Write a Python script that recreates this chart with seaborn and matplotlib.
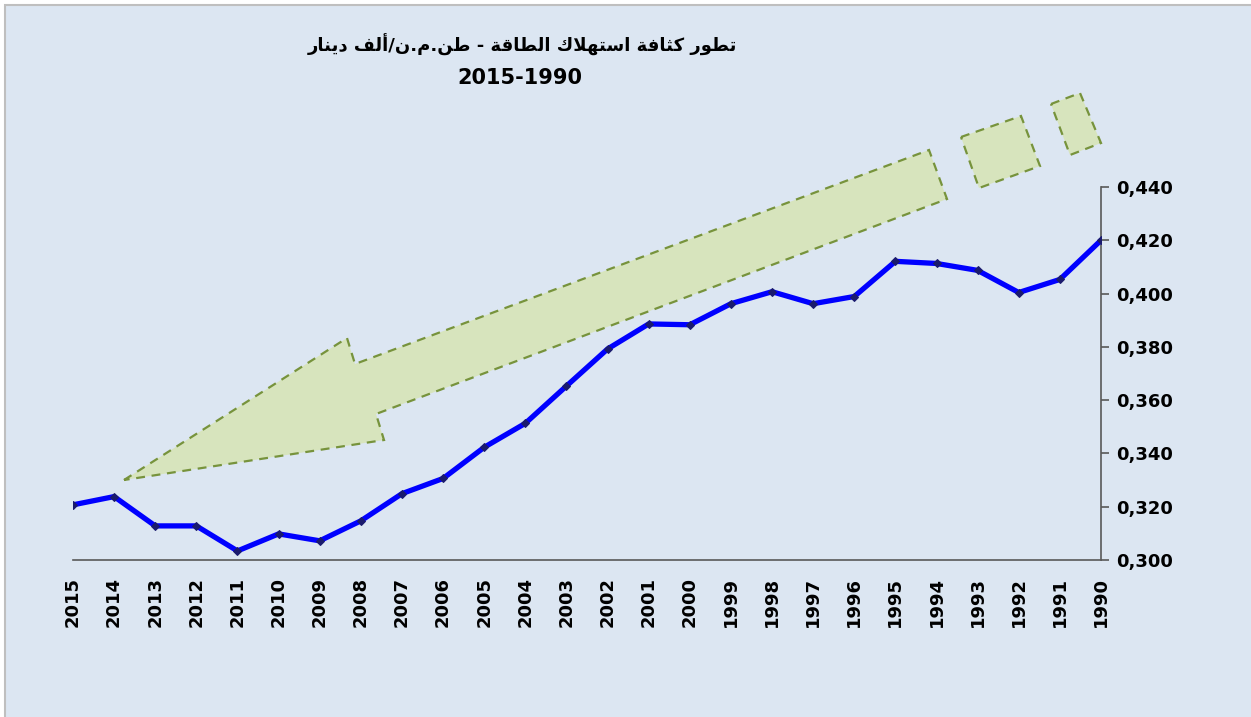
import matplotlib
matplotlib.use("Agg")
import matplotlib.pyplot as plt
from matplotlib.patches import Polygon, Rectangle
from matplotlib.ticker import FuncFormatter, MultipleLocator
import seaborn as sns
import pandas as pd

years = list(range(2015, 1989, -1))
intensity = [
    0.3207, 0.3238, 0.3128, 0.3128, 0.3034, 0.3098, 0.3072, 0.3147, 0.3249,
    0.3306, 0.3423, 0.3513, 0.3653, 0.3792, 0.3886, 0.3883, 0.3962, 0.4007,
    0.3962, 0.3989, 0.4121, 0.4113, 0.4087, 0.4004, 0.4053, 0.4200,
]
title_ar = "تطور كثافة استهلاك الطاقة - طن.م.ن/ألف دينار"
subtitle = "2015-1990"

BG = "#dce6f2"
W, H = 1251, 717

# presentation forms: (isolated, final, initial, medial); None -> letter does not join left
FORMS = {
    "ا": (0xFE8D, 0xFE8E, None, None), "أ": (0xFE83, 0xFE84, None, None),
    "ت": (0xFE95, 0xFE96, 0xFE97, 0xFE98), "ث": (0xFE99, 0xFE9A, 0xFE9B, 0xFE9C),
    "د": (0xFEA9, 0xFEAA, None, None), "ر": (0xFEAD, 0xFEAE, None, None),
    "س": (0xFEB1, 0xFEB2, 0xFEB3, 0xFEB4), "ط": (0xFEC1, 0xFEC2, 0xFEC3, 0xFEC4),
    "ف": (0xFED1, 0xFED2, 0xFED3, 0xFED4), "ق": (0xFED5, 0xFED6, 0xFED7, 0xFED8),
    "ك": (0xFED9, 0xFEDA, 0xFEDB, 0xFEDC), "ل": (0xFEDD, 0xFEDE, 0xFEDF, 0xFEE0),
    "م": (0xFEE1, 0xFEE2, 0xFEE3, 0xFEE4), "ن": (0xFEE5, 0xFEE6, 0xFEE7, 0xFEE8),
    "ه": (0xFEE9, 0xFEEA, 0xFEEB, 0xFEEC), "و": (0xFEED, 0xFEEE, None, None),
    "ي": (0xFEF1, 0xFEF2, 0xFEF3, 0xFEF4), "ة": (0xFE93, 0xFE94, None, None),
}
LAM_ALEF = {"ا": (0xFEFB, 0xFEFC), "أ": (0xFEF7, 0xFEF8)}


def shape_arabic(text):
    """Join Arabic letters by hand and return them in visual (left-to-right) order."""
    out = []
    i = 0
    prev_joins = False
    while i < len(text):
        ch = text[i]
        if ch == "ل" and i + 1 < len(text) and text[i + 1] in LAM_ALEF:
            iso, fin = LAM_ALEF[text[i + 1]]
            out.append(chr(fin if prev_joins else iso))
            prev_joins = False
            i += 2
            continue
        if ch not in FORMS:
            out.append(ch)
            prev_joins = False
            i += 1
            continue
        iso, fin, ini, med = FORMS[ch]
        nxt = text[i + 1] if i + 1 < len(text) else ""
        next_joins = ini is not None and nxt in FORMS
        if prev_joins and next_joins:
            out.append(chr(med))
        elif prev_joins:
            out.append(chr(fin))
        elif next_joins:
            out.append(chr(ini))
        else:
            out.append(chr(iso))
        prev_joins = ini is not None
        i += 1
    return "".join(reversed(out))


df = pd.DataFrame({"year": years, "intensity": intensity})

sns.set_style("white")
plt.rcParams["font.family"] = ["DejaVu Sans"]
plt.rcParams["text.color"] = "black"

fig = plt.figure(figsize=(W / 100, H / 100), dpi=100)
fig.patch.set_facecolor("white")
fig.add_artist(Rectangle((5 / W, -0.05), 1.1, 1 - 5 / H + 0.05, transform=fig.transFigure,
                         facecolor=BG, edgecolor="#bfbfbf", linewidth=1.5, zorder=-5))

ax = fig.add_axes([73 / W, 1 - 560 / H, (1101 - 73) / W, (560 - 187) / H])
ax.set_facecolor("none")

# decorative arrow (pixel outlines)
arrow_px = [(124, 480), (347, 338), (355, 364), (929, 150), (947, 199), (376, 414), (384, 440)]
blocks_px = [
    [(961, 137), (1021, 116), (1040, 166), (979, 188)],
    [(1051, 104), (1080, 93), (1101, 143), (1070, 155)],
]
for shape in [arrow_px] + blocks_px:
    pts = [(x / W, 1 - y / H) for x, y in shape]
    ax.add_patch(Polygon(pts, closed=True, transform=fig.transFigure, clip_on=False,
                         facecolor="#d7e4bd", edgecolor="#77933c", linewidth=1.6,
                         linestyle=(0, (4, 3)), zorder=1))

sns.lineplot(data=df, x="year", y="intensity", ax=ax, color="#0000ff", linewidth=3.8,
             marker="D", markersize=4.5, markerfacecolor="#1a1a6e",
             markeredgecolor="#1a1a6e", zorder=3)

ax.set_xlim(2015, 1990)
ax.set_ylim(0.300, 0.440)
ax.set_xticks(years)
ax.set_xticklabels([str(y) for y in years], rotation=90, fontsize=13, fontweight="bold",
                   color="black")
ax.yaxis.set_major_locator(MultipleLocator(0.02))
ax.yaxis.set_major_formatter(FuncFormatter(lambda v, p: f"{v:.3f}".replace(".", ",")))
ax.yaxis.tick_right()
for lab in ax.get_yticklabels():
    lab.set_fontsize(13)
    lab.set_fontweight("bold")
ax.tick_params(axis="both", direction="out", length=6, width=1.2, color="#595959",
               labelcolor="black", pad=6)
ax.tick_params(axis="y", pad=5)
ax.set_xlabel("")
ax.set_ylabel("")

for side in ["left", "top"]:
    ax.spines[side].set_visible(False)
for side in ["bottom", "right"]:
    ax.spines[side].set_color("#595959")
    ax.spines[side].set_linewidth(1.2)

fig.text(522 / W, 1 - 45 / H, shape_arabic(title_ar), ha="center", va="center",
         fontsize=13, fontweight="bold", color="black")
fig.text(520 / W, 1 - 78 / H, subtitle, ha="center", va="center",
         fontsize=15, fontweight="bold", color="black")

fig.savefig("out.png", dpi=100, facecolor=fig.get_facecolor())
